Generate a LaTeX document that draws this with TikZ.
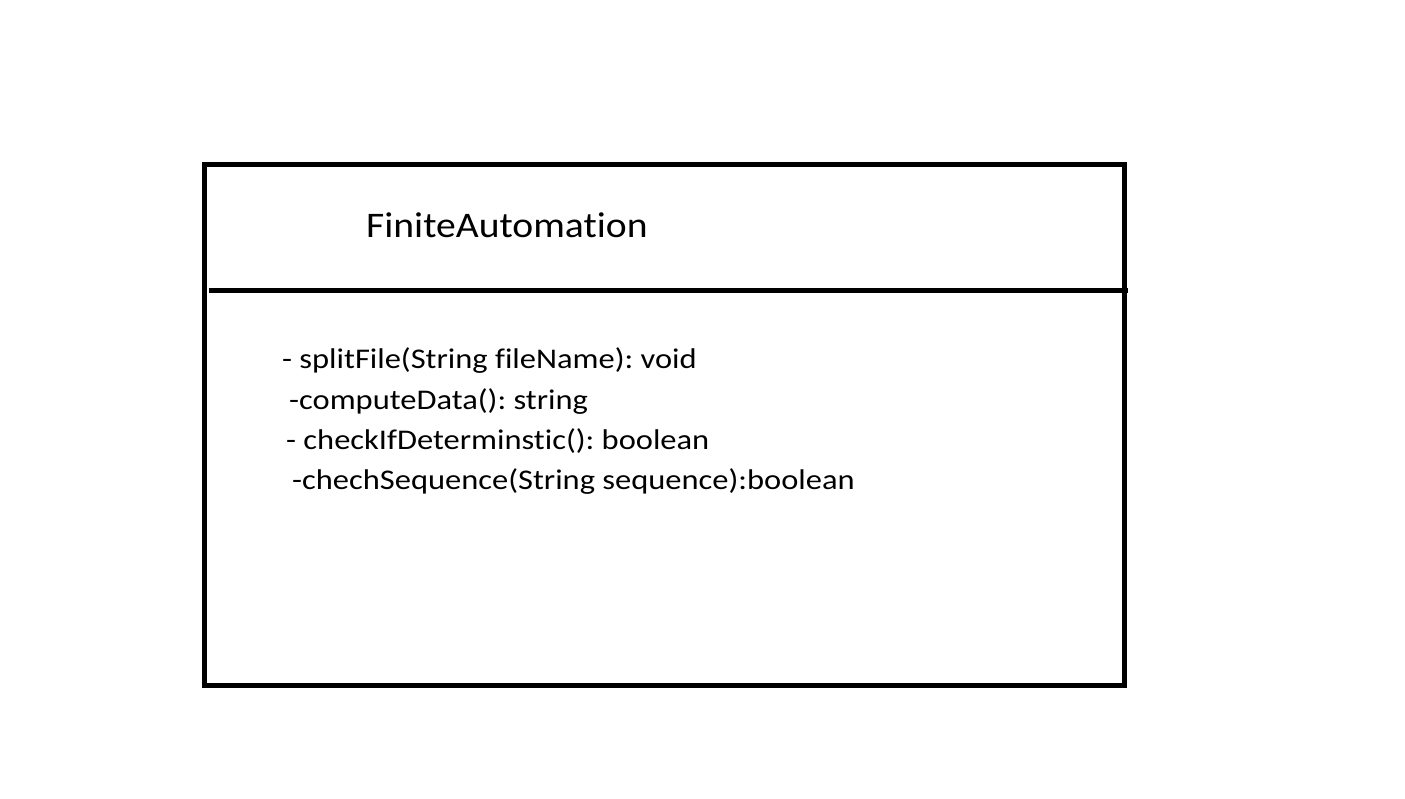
\documentclass[tikz,border=0pt]{standalone}
\usepackage{fontspec}
\setmainfont[Ligatures=NoCommon]{Carlito}
\newfontfamily\titlefont[Ligatures=NoCommon,FakeStretch=1.1]{Carlito}
\newfontfamily\methodfont[Ligatures=NoCommon,FakeStretch=1.14]{Carlito}
\frenchspacing
\begin{document}
\begin{tikzpicture}[x=1pt,y=-1pt,
  boxline/.style={line width=5pt},
  titletext/.style={font=\titlefont\fontsize{36}{40}\selectfont, anchor=base west, inner sep=0pt},
  methodtext/.style={font=\methodfont\fontsize{28.5}{32}\selectfont, anchor=base west, inner sep=0pt}]
\useasboundingbox (0,0) rectangle (1405,799);
\fill[white] (0,0) rectangle (1405,799);
\coordinate (tl) at (204.5,164.5);
\coordinate (br) at (1124.5,685);
\draw[boxline] (tl) rectangle (br);
\coordinate (dl) at (209,291);
\coordinate (dr) at (1128,291);
\draw[boxline] (dl) -- (dr);
\node[titletext] (title) at (366,238) {FiniteAutomation};
\node[methodtext] (m1) at (282,369) {- splitFile(String fileName): void};
\node[methodtext] (m2) at (289,409) {-computeData(): string};
\node[methodtext] (m3) at (286,449) {- checkIfDeterminstic(): boolean};
\node[methodtext] (m4) at (292,489) {-chechSequence(String sequence):boolean};
\end{tikzpicture}
\end{document}
